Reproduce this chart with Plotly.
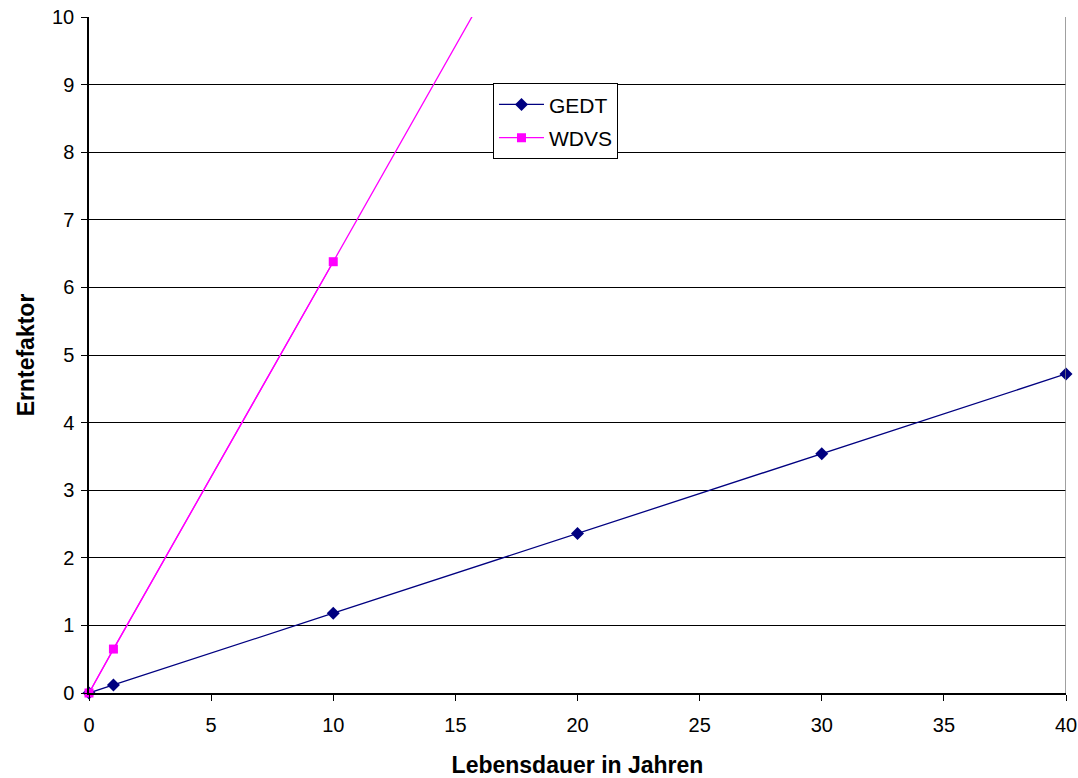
import plotly.graph_objects as go

years_gedt = [0, 1, 10, 20, 30, 40]
gedt = [0.0, 0.12, 1.18, 2.36, 3.54, 4.72]
years_wdvs = [0, 1, 10, 20]
wdvs = [0.0, 0.65, 6.38, 12.76]
x_ticks = [0, 5, 10, 15, 20, 25, 30, 35, 40]
y_ticks = list(range(0, 11))

FONT = "Liberation Sans, Arial, sans-serif"

fig = go.Figure()
fig.add_trace(go.Scatter(
    x=years_gedt, y=gedt, name="GEDT", mode="lines+markers", legendgroup="g",
    line=dict(color="#000080", width=1.3),
    marker=dict(symbol="diamond", size=10, color="#000080"),
    cliponaxis=False,
))
# WDVS line continues beyond the visible range (clipped at top)
fig.add_trace(go.Scatter(
    x=years_wdvs, y=wdvs, mode="lines", showlegend=False, hoverinfo="skip",
    line=dict(color="#FF00FF", width=1.3),
))
fig.add_trace(go.Scatter(
    x=years_wdvs[:3], y=wdvs[:3], name="WDVS", mode="lines+markers", legendgroup="w",
    line=dict(color="#FF00FF", width=1.3),
    marker=dict(symbol="square", size=9, color="#FF00FF"),
    cliponaxis=False,
))

fig.update_layout(
    width=1078, height=778,
    margin=dict(l=89, r=12, t=17, b=85),
    plot_bgcolor="white", paper_bgcolor="white",
    font=dict(family=FONT, size=20, color="black"),
    showlegend=True,
    legend=dict(
        x=0.4135, y=0.902, xanchor="left", yanchor="top",
        bgcolor="white", bordercolor="black", borderwidth=1,
        font=dict(family=FONT, size=21, color="black"), tracegroupgap=3,
        itemwidth=45,
    ),
    xaxis=dict(
        range=[0, 40], tickvals=x_ticks, showgrid=False, zeroline=False,
        showline=True, linecolor="black", linewidth=1.5, automargin=False,
        ticks="outside", ticklen=6, tickcolor="black", ticklabelstandoff=7,
        tickfont=dict(family=FONT, size=20, color="black"),
        title=dict(text="<b>Lebensdauer in Jahren</b>",
                   font=dict(family=FONT, size=23, color="black"), standoff=22),
    ),
    yaxis=dict(
        range=[0, 10], tickvals=y_ticks, showgrid=True, gridcolor="black", gridwidth=1.2,
        zeroline=False, showline=True, linecolor="black", linewidth=1.5, automargin=False,
        ticks="outside", ticklen=6, tickcolor="black", ticklabelstandoff=3,
        tickfont=dict(family=FONT, size=20, color="black"),
        title=dict(text="<b>Erntefaktor</b>",
                   font=dict(family=FONT, size=23, color="black"), standoff=11),
    ),
    shapes=[dict(type="line", xref="x", yref="paper", x0=40, x1=40, y0=0, y1=1,
                 line=dict(color="#808080", width=1.5))],
)

fig.write_html("out.html")
